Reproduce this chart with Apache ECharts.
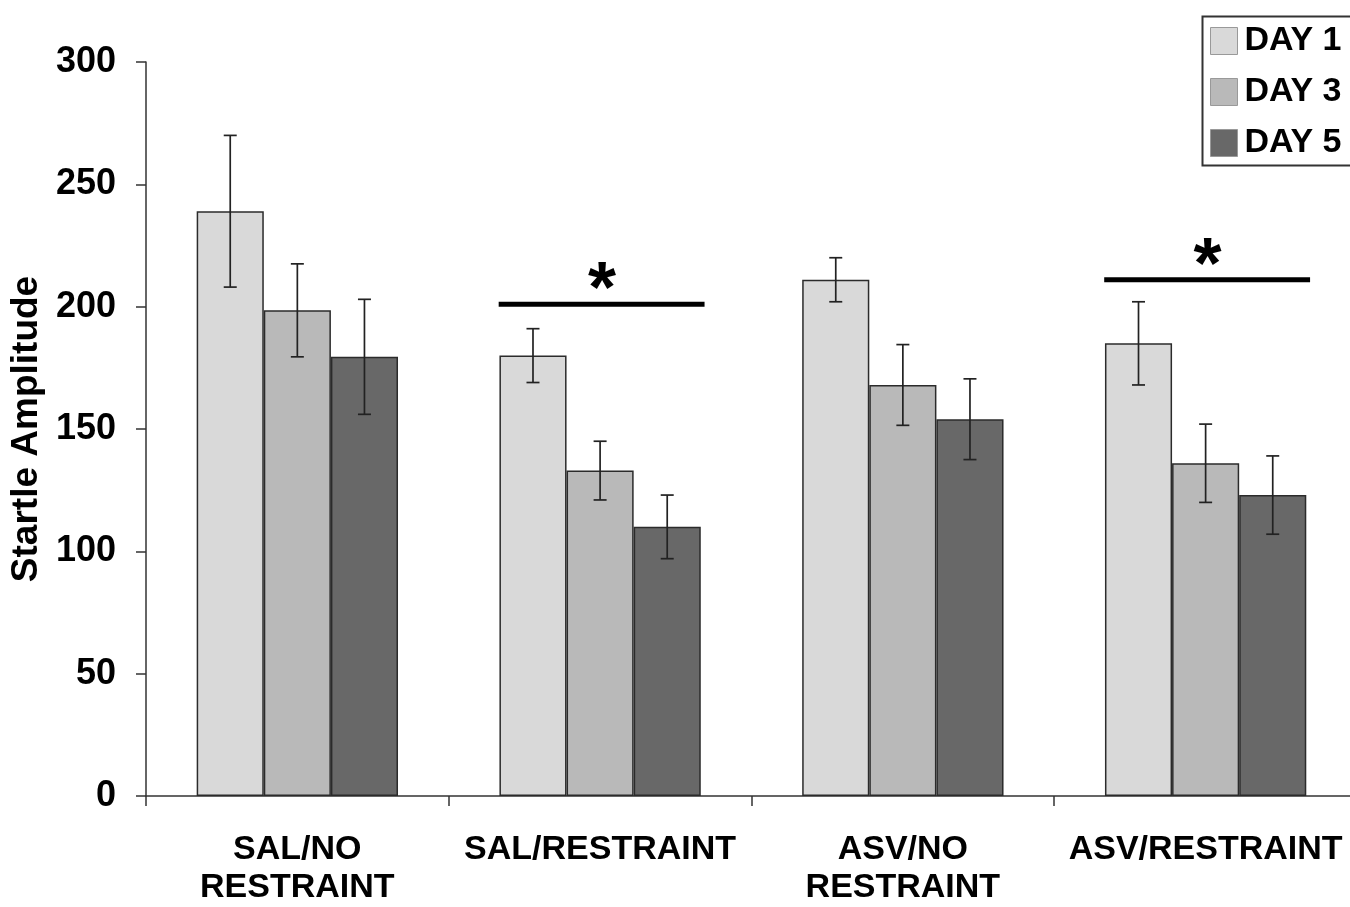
<!DOCTYPE html>
<html>
<head>
<meta charset="utf-8">
<script src="https://cdn.jsdelivr.net/npm/echarts@6/dist/echarts.min.js"></script>
<style>
  html, body { margin: 0; padding: 0; background: #fff; overflow: hidden; }
  #chart { width: 1366px; height: 907px; }
</style>
</head>
<body>
<div id="chart"></div>
<script>
// Groups and startle amplitudes (mean ± SEM) per test day
const categories = ['SAL/NO\nRESTRAINT', 'SAL/RESTRAINT', 'ASV/NO\nRESTRAINT', 'ASV/RESTRAINT'];
const dayNames = ['DAY 1', 'DAY 3', 'DAY 5'];
const day1 = [239, 180, 211, 185];
const day3 = [198.5, 133, 168, 136];
const day5 = [179.5, 110, 154, 123];
const day1Err = [31, 11, 9, 17];
const day3Err = [19, 12, 16.5, 16];
const day5Err = [23.5, 13, 16.5, 16];
const yTicks = [0, 50, 100, 150, 200, 250, 300];
// Significance brackets: group index and bracket height
const sigGroups = [1, 3];
const sigLevels = [201, 211];

const colors = ['#d9d9d9', '#b9b9b9', '#686868'];
const FONT = '"Liberation Sans", Arial, sans-serif';
const CAT_GAP = 0.335;

const values = [day1, day3, day5];
const errors = [day1Err, day3Err, day5Err];

const barSeries = dayNames.map((name, d) => ({
  name: name,
  type: 'bar',
  data: values[d],
  barGap: '0%',
  barCategoryGap: (CAT_GAP * 100) + '%',
  itemStyle: { color: colors[d], borderColor: '#2b2b2b', borderWidth: 1.5 },
  z: 2
}));

const errSeries = dayNames.map((name, d) => ({
  type: 'custom',
  name: name + ' err',
  z: 5,
  encode: { x: 0, y: 1 },
  data: values[d].map((v, i) => [i, v, errors[d][i]]),
  renderItem: function (params, api) {
    const cat = api.value(0), v = api.value(1), e = api.value(2);
    const band = api.size([1, 0])[0];
    const barW = band * (1 - CAT_GAP) / 3;
    const x = api.coord([cat, 0])[0] + (d - 1) * barW;
    const yTop = api.coord([cat, v + e])[1];
    const yBot = api.coord([cat, v - e])[1];
    const cap = 6.5;
    const st = { stroke: '#222', lineWidth: 1.7 };
    return {
      type: 'group',
      children: [
        { type: 'line', shape: { x1: x, y1: yTop, x2: x, y2: yBot }, style: st },
        { type: 'line', shape: { x1: x - cap, y1: yTop, x2: x + cap, y2: yTop }, style: st },
        { type: 'line', shape: { x1: x - cap, y1: yBot, x2: x + cap, y2: yBot }, style: st }
      ]
    };
  }
}));

const sigSeries = {
  type: 'custom',
  name: 'sig',
  z: 6,
  encode: { x: 0, y: 1 },
  data: sigGroups.map((g, i) => [g, sigLevels[i]]),
  renderItem: function (params, api) {
    const cat = api.value(0), lvl = api.value(1);
    const band = api.size([1, 0])[0];
    const p = api.coord([cat, lvl]);
    return {
      type: 'group',
      children: [
        { type: 'line',
          shape: { x1: p[0] - band * 0.335, y1: p[1], x2: p[0] + band * 0.345, y2: p[1] },
          style: { stroke: '#000', lineWidth: 5 } },
        { type: 'text',
          style: { text: '*', x: p[0] + 2, y: p[1] + 24, align: 'center', verticalAlign: 'bottom',
                   font: 'bold 72px ' + FONT, fill: '#000' } }
      ]
    };
  }
};

const chart = echarts.init(document.getElementById('chart'), null, { renderer: 'canvas' });
chart.setOption({
  backgroundColor: '#fff',
  animation: false,
  grid: { left: 145, top: 62, width: 1212, bottom: 110, containLabel: false },
  // Frame around the legend, running off the right edge
  graphic: [{
    type: 'rect',
    left: 1200, top: 14,
    shape: { width: 200, height: 149 },
    style: { fill: 'none', stroke: '#333', lineWidth: 2 },
    z: 10
  }],
  legend: {
    data: dayNames,
    orient: 'vertical',
    left: 1200,
    top: 14,
    itemWidth: 27,
    itemHeight: 27,
    itemGap: 17,
    padding: [10, 10, 4, 10],
    icon: 'rect',
    itemStyle: { borderColor: '#999', borderWidth: 1 },
    textStyle: { fontFamily: FONT, fontWeight: 'bold', fontSize: 34, color: '#000', padding: [0, 0, 0, 2] }
  },
  xAxis: {
    type: 'category',
    data: categories,
    boundaryGap: true,
    axisLine: { lineStyle: { color: '#333', width: 1.5 } },
    axisTick: { show: true, length: 10, inside: false, lineStyle: { color: '#333', width: 1.5 } },
    axisLabel: {
      interval: 0, margin: 35, color: '#000',
      fontFamily: FONT, fontWeight: 'bold', fontSize: 34, lineHeight: 38
    }
  },
  yAxis: {
    type: 'value',
    min: yTicks[0],
    max: yTicks[yTicks.length - 1],
    interval: yTicks[1] - yTicks[0],
    name: 'Startle Amplitude',
    nameLocation: 'middle',
    nameGap: 98,
    nameTextStyle: { fontFamily: FONT, fontWeight: 'bold', fontSize: 37, color: '#000' },
    splitLine: { show: false },
    axisLine: { show: true, lineStyle: { color: '#333', width: 1.5 } },
    axisTick: { show: true, length: 10, lineStyle: { color: '#333', width: 1.5 } },
    axisLabel: { margin: 30, color: '#000', fontFamily: FONT, fontWeight: 'bold', fontSize: 36 }
  },
  series: [...barSeries, ...errSeries, sigSeries]
});
</script>
</body>
</html>
